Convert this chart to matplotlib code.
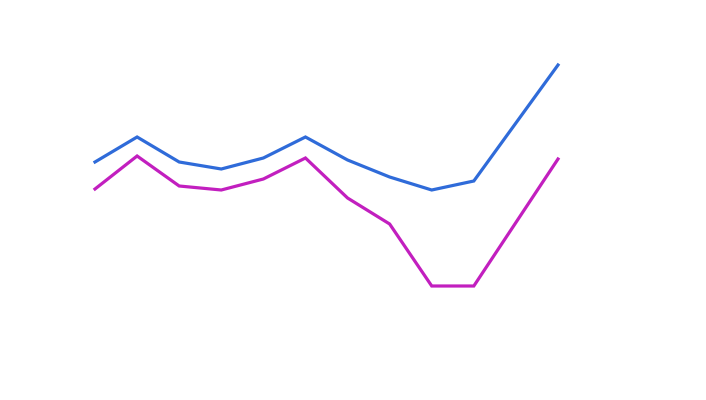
import matplotlib
matplotlib.use('Agg')
import matplotlib.pyplot as plt

# позиции точек (пропуск на 10 — прямой участок)
steps = [0, 1, 2, 3, 4, 5, 6, 7, 8, 9, 11]
blue_vals = [238, 263, 238, 231, 242, 263, 240, 223, 210, 219, 335]
magenta_vals = [211, 244, 214, 210, 221, 242, 202, 176, 114, 114, 241]

fig = plt.figure(figsize=(7.06, 4.0), dpi=100)
ax = fig.add_axes([0, 0, 1, 1])

ax.plot(steps, blue_vals, color='#2f6bd9', linewidth=2.3, solid_joinstyle='miter')
ax.plot(steps, magenta_vals, color='#c21fbf', linewidth=2.3, solid_joinstyle='miter')

unit = (558 - 95) / 11
ax.set_xlim(-95 / unit, (706 - 95) / unit)
ax.set_ylim(0, 400)
ax.axis('off')

plt.savefig('out.png', dpi=100)
